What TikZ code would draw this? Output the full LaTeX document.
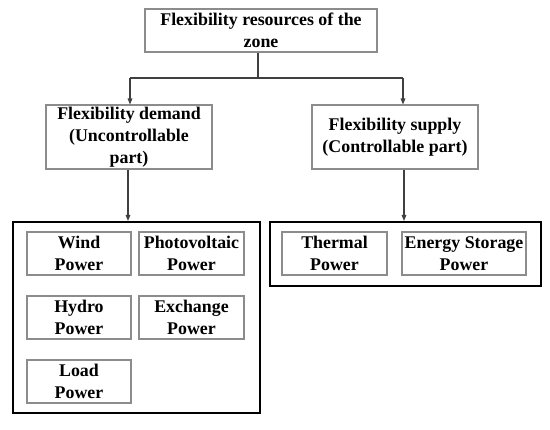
\documentclass[tikz,border=0pt]{standalone}
\usepackage{fontspec}
\setmainfont{Liberation Serif}
\usetikzlibrary{arrows.meta}
\begin{document}
\begin{tikzpicture}[x=0.75pt,y=-0.75pt,
  every node/.style={font=\bfseries\fontsize{13.4}{16.3}\selectfont, align=center, inner sep=0pt},
  gbox/.style={draw=black!45, line width=0.8pt, minimum width=#1*0.75pt, rectangle},
  hbox/.style={draw=black, line width=1.6pt, rectangle},
  conn/.style={draw=black!75, line width=0.8pt},
  arr/.style={conn, -{Triangle[length=4.5pt,width=3.5pt]}}]
\useasboundingbox (0,0) rectangle (550,429);
% top level
\node[gbox=232, minimum height=43*0.75pt] (top) at (261,30.5) {Flexibility resources of the\\zone};
\node[gbox=166, minimum height=64*0.75pt] (demand) at (129,137) {Flexibility demand\\(Uncontrollable\\part)};
\node[gbox=166, minimum height=64*0.75pt] (supply) at (395,137) {Flexibility supply\\(Controllable part)};
% big containers
\node[hbox, minimum width=247*0.75pt, minimum height=191*0.75pt] (dgroup) at (136.5,317.5) {};
\node[hbox, minimum width=271*0.75pt, minimum height=64*0.75pt] (sgroup) at (405.5,254) {};
% inner boxes
\node[gbox=104, minimum height=43*0.75pt] (wind) at (79,253.5) {Wind\\Power};
\node[gbox=105, minimum height=43*0.75pt] (pv) at (191.5,253.5) {Photovoltaic\\Power};
\node[gbox=104, minimum height=43*0.75pt] (hydro) at (79,317.5) {Hydro\\Power};
\node[gbox=105, minimum height=43*0.75pt] (exch) at (191.5,317.5) {Exchange\\Power};
\node[gbox=104, minimum height=43*0.75pt] (load) at (79,381.5) {Load\\Power};
\node[gbox=105, minimum height=43*0.75pt] (thermal) at (334.5,253.5) {Thermal\\Power};
\node[gbox=124, minimum height=43*0.75pt] (storage) at (464,253.5) {Energy Storage\\Power};
% connectors
\coordinate (jc) at (258,78);
\coordinate (jl) at (130,78);
\coordinate (jr) at (403,78);
\coordinate (dl) at (128,0);
\coordinate (sr) at (404,0);
\draw[conn] (jc |- top.south) -- (jc);
\draw[conn] (jl) -- (jr);
\draw[arr] (jl) -- (jl |- demand.north);
\draw[arr] (jr) -- (jr |- supply.north);
\draw[arr] (dl |- demand.south) -- (dl |- dgroup.north);
\draw[arr] (sr |- supply.south) -- (sr |- sgroup.north);
\end{tikzpicture}
\end{document}
